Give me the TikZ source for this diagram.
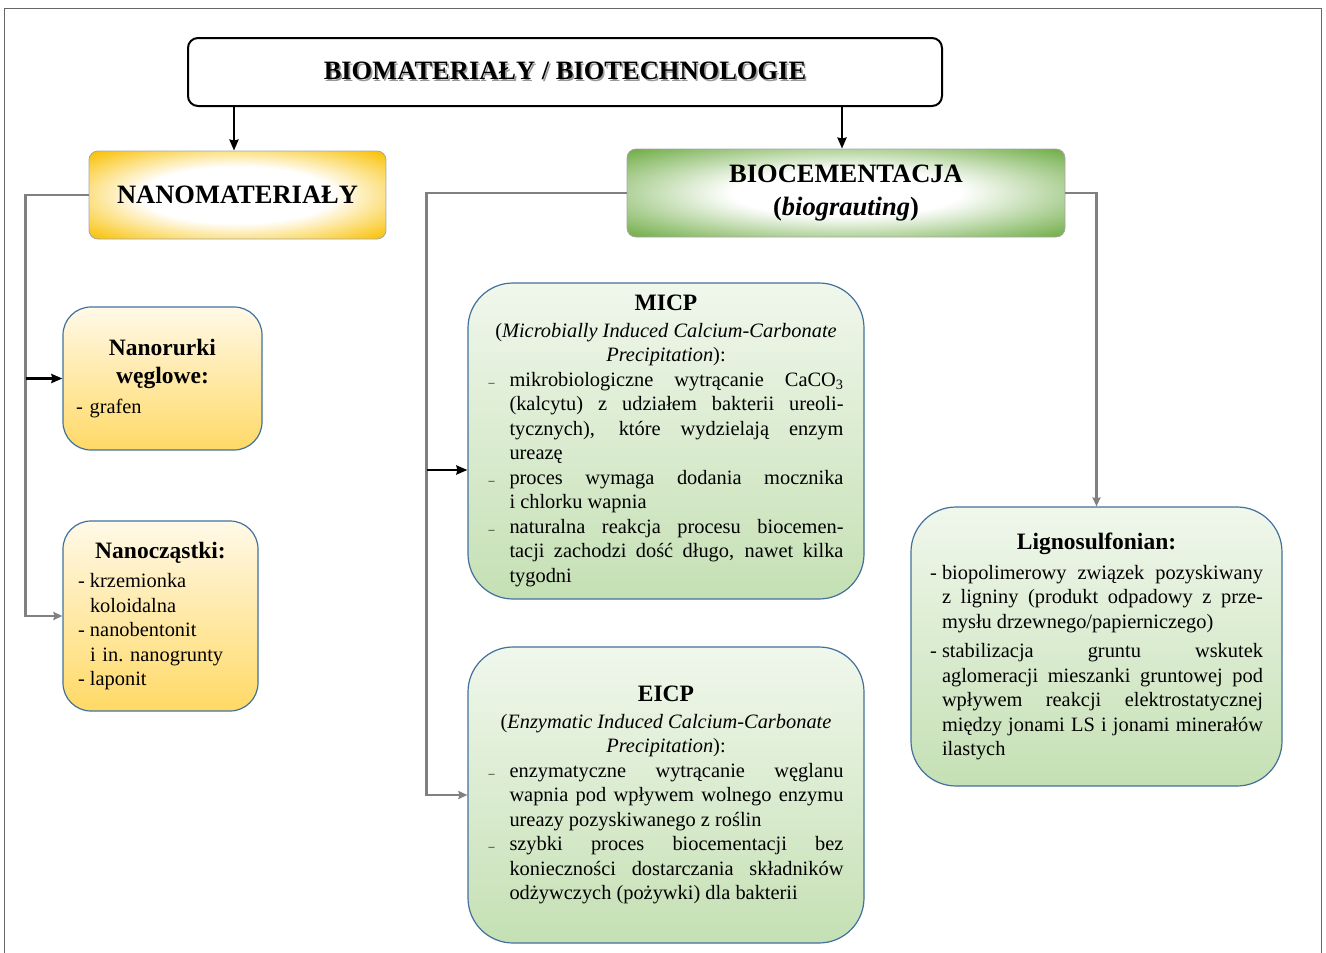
\documentclass[tikz,border=0pt]{standalone}
\usepackage{fontspec}
\setmainfont{Liberation Serif}
\usepackage{tikz}
\usetikzlibrary{positioning, calc, arrows.meta}
\setlength{\parindent}{0pt}
\tolerance=10000
\hbadness=10000
\definecolor{nanogold}{HTML}{F9C000}
\definecolor{nanolight}{HTML}{FFF9E8}
\definecolor{nanoyellow}{HTML}{FFD966}
\definecolor{biogreen}{HTML}{70AD47}
\definecolor{biolight}{HTML}{F0F7EC}
\definecolor{biomid}{HTML}{C5E0B4}
\definecolor{boxblue}{HTML}{41719C}
\definecolor{linegrey}{HTML}{808080}
\pgfdeclareradialshading{nanoGlow}{\pgfpoint{0bp}{0bp}}{color(0bp)=(white); color(16bp)=(white); color(35bp)=(nanogold); color(50bp)=(nanogold)}
\pgfdeclareradialshading{bioGlow}{\pgfpoint{0bp}{0bp}}{color(0bp)=(white); color(13bp)=(white); color(35bp)=(biogreen); color(50bp)=(biogreen)}
\tikzstyle{frameLine}=[draw=black!60, line width=1pt]
\tikzstyle{mainBox}=[draw=black, line width=2pt, rounded corners=10pt, fill=white, minimum width=754pt, minimum height=68pt, font=\bfseries\fontsize{26.5}{30}\selectfont]
\tikzstyle{nanoHead}=[draw=black!35, line width=0.8pt, rounded corners=9pt, shading=nanoGlow, minimum width=297pt, minimum height=88pt, font=\bfseries\fontsize{26.5}{30}\selectfont]
\tikzstyle{bioHead}=[draw=black!35, line width=0.8pt, rounded corners=9pt, shading=bioGlow, minimum width=438pt, minimum height=88pt, align=center, font=\bfseries\fontsize{26.5}{33}\selectfont]
\tikzstyle{itemBox}=[draw=boxblue, line width=1.2pt, font=\fontsize{20.4}{24.5}\selectfont]
\tikzstyle{nanoItem}=[itemBox, top color=nanolight, bottom color=nanoyellow, rounded corners=28pt, align=left]
\tikzstyle{bioItem}=[itemBox, top color=biolight, bottom color=biomid, rounded corners=45pt, align=justify]
\tikzstyle{arrow}=[-{Stealth[length=11pt, width=9pt, inset=1pt]}, line width=2.5pt]
\tikzstyle{arrowGrey}=[-{Stealth[length=9pt, width=8pt, inset=1pt]}, draw=linegrey, line width=2.5pt]
\newcommand{\shadowed}[1]{\makebox[0pt][l]{\hspace{1.6pt}\raisebox{-1.6pt}{\color{black!40}#1}}#1}
\newcommand{\boxtitle}[2][0pt]{{\centering\bfseries\fontsize{23.5}{28}\selectfont #2\par}\vspace{#1}}
\newcommand{\dashitem}{\par\hangindent=21pt\hangafter=1\makebox[21pt][l]{\fontsize{12}{12}\selectfont –}}
\newcommand{\hypitem}{\par\hangindent=12pt\hangafter=1\makebox[12pt][l]{-}}

\begin{document}
\begin{tikzpicture}[x=1pt, y=-1pt]
    \useasboundingbox (0,0) rectangle (1326,953);
    \draw[frameLine] (4,960) |- (1321,8) -- (1321,960);

    \node[mainBox] (top) at (565,72) {\shadowed{BIOMATERIAŁY / BIOTECHNOLOGIE}};
    \node[nanoHead] (nano) at (237.5,195) {NANOMATERIAŁY};
    \node[bioHead] (bio) at (846,193) {BIOCEMENTACJA\\(\textit{biograuting})};

    \node[nanoItem, minimum width=199pt, minimum height=143pt, text width=173pt] (nanorurki) at (162.5,378.5) {%
        \boxtitle[5pt]{Nanorurki\\węglowe:}
        - grafen\par};
    \node[nanoItem, minimum width=195pt, minimum height=190pt, text width=165pt] (nanoczastki) at (160.5,616) {%
        \boxtitle[5pt]{Nanocząstki:}
        \hypitem krzemionka\newline koloidalna
        \hypitem nanobentonit\newline i in.\ nanogrunty
        \hypitem laponit\par};

    \node[bioItem, minimum width=396pt, minimum height=316pt, text width=355pt] (micp) at (666,441) {%
        \boxtitle[2pt]{MICP}
        {\centering (\textit{Microbially Induced Calcium-Carbonate}\\\textit{Precipitation}):\par}
        \dashitem mikrobiologiczne wytrącanie CaCO\textsubscript{3}\linebreak (kalcytu) z udziałem bakterii ureoli-\linebreak tycznych), które wydzielają enzym\linebreak ureazę
        \dashitem proces wymaga dodania mocznika\linebreak i chlorku wapnia
        \dashitem naturalna reakcja procesu biocemen-\linebreak tacji zachodzi dość długo, nawet kilka\linebreak tygodni\par};
    \node[bioItem, minimum width=396pt, minimum height=296pt, text width=355pt] (eicp) at (666,795) {%
        \boxtitle[2pt]{EICP}
        {\centering (\textit{Enzymatic Induced Calcium-Carbonate}\\\textit{Precipitation}):\par}
        \dashitem enzymatyczne wytrącanie węglanu\linebreak wapnia pod wpływem wolnego enzymu\linebreak ureazy pozyskiwanego z roślin
        \dashitem szybki proces biocementacji bez\linebreak konieczności dostarczania składników\linebreak odżywczych (pożywki) dla bakterii\par};
    \node[bioItem, minimum width=371pt, minimum height=279pt, text width=333pt] (ligno) at (1096.5,646.5) {%
        \boxtitle[5pt]{Lignosulfonian:}
        \hypitem biopolimerowy związek pozyskiwany\linebreak z ligniny (produkt odpadowy z prze-\linebreak mysłu drzewnego/papierniczego)\par\vspace{5pt}
        \hypitem stabilizacja gruntu wskutek\linebreak aglomeracji mieszanki gruntowej pod\linebreak wpływem reakcji elektrostatycznej\linebreak między jonami LS i jonami minerałów\linebreak ilastych\par};

    \coordinate (topleft) at ($(nano.north)+(-3.5,0)$);
    \coordinate (topright) at ($(bio.north)+(-4,0)$);
    \draw[arrow] (topleft |- top.south) -- (topleft);
    \draw[arrow] (topright |- top.south) -- (topright);

    \coordinate (nanobus) at ($(nano.west)+(-63,0)$);
    \draw[arrowGrey] (nano.west) -- (nanobus) |- (nanoczastki.west);
    \draw[arrow] (nanobus |- nanorurki.west) -- (nanorurki.west);

    \coordinate (biobus) at ($(bio.west)+(-200,0)$);
    \coordinate (micpin) at ($(micp.west)+(0,29)$);
    \draw[arrowGrey] (bio.west) -- (biobus) |- (eicp.west);
    \draw[arrow] (biobus |- micpin) -- (micpin);

    \draw[arrowGrey] (bio.east) -| (ligno.north);
\end{tikzpicture}
\end{document}
